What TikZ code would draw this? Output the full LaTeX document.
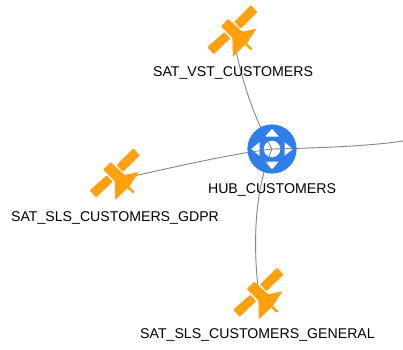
\documentclass[tikz,border=0pt]{standalone}
\usepackage{fontspec}
\setmainfont{Liberation Sans}
\definecolor{satorange}{HTML}{FFA00F}
\definecolor{hubblue}{HTML}{2F7FEA}
\definecolor{edgegray}{HTML}{858585}
\tikzset{
  x=1pt,y=-1pt,
  linkline/.style={draw=edgegray,line width=0.9pt},
  labeltext/.style={font=\fontsize{14.15}{16}\selectfont,text=black,inner sep=0pt,anchor=center},
  pics/satellite/.style={code={
    \fill[satorange,rounded corners=0.8pt] (17.6,-31.6) -- (24.2,-24.7) -- (7.2,-8) -- (1,-15) -- cycle;
    \fill[satorange,rounded corners=0.8pt] (-26,10.3) -- (-19.6,17.6) -- (-3,1.6) -- (-9,-4.6) -- cycle;
    \fill[satorange,rounded corners=0.6pt] (-12.4,-10.4) -- (-5,-17.8) -- (9,-5) -- (23.2,-8) -- (14,6) -- (-0.4,20) -- (-0.9,1.2) -- cycle;
    \draw[satorange,line width=2.4pt,line cap=round] (10,4.6) -- (17.6,12.2);
  }}
}
\begin{document}
\begin{tikzpicture}
\useasboundingbox (0,0) rectangle (403,349);
\fill[white] (0,0) rectangle (403,349);
\coordinate (hub) at (272,149);
\coordinate (satv) at (233.3,36.7);
\coordinate (satg) at (115.7,180);
\coordinate (sats) at (259.3,299.3);
\coordinate (offpage) at (403,141);
\path[linkline] (hub) .. controls (258,125) and (243,90) .. (satv);
\path[linkline] (hub) .. controls (225,155) and (170,168) .. (satg);
\path[linkline] (hub) .. controls (250,200) and (255,265) .. (sats);
\path[linkline] (hub) .. controls (320,148) and (370,146) .. (offpage);
\fill[hubblue,even odd rule] (hub) circle[radius=24.6]
  (hub) circle[radius=8.4]
  ([yshift=20.5pt]hub) -- ([xshift=7pt,yshift=12.5pt]hub) -- ([xshift=-7pt,yshift=12.5pt]hub) -- cycle
  ([yshift=-20.5pt]hub) -- ([xshift=7pt,yshift=-12.5pt]hub) -- ([xshift=-7pt,yshift=-12.5pt]hub) -- cycle
  ([xshift=-21pt]hub) -- ([xshift=-12.5pt,yshift=7pt]hub) -- ([xshift=-12.5pt,yshift=-7pt]hub) -- cycle
  ([xshift=21pt]hub) -- ([xshift=12.5pt,yshift=7pt]hub) -- ([xshift=12.5pt,yshift=-7pt]hub) -- cycle;
\pic at (satv) {satellite};
\pic at (satg) {satellite};
\pic at (sats) {satellite};
\node[labeltext] (lhub) at (272,190) {HUB\_CUSTOMERS};
\node[labeltext] (lv) at (233,72.5) {SAT\_VST\_CUSTOMERS};
\node[labeltext] (lg) at (115,217.5) {SAT\_SLS\_CUSTOMERS\_GDPR};
\node[labeltext] (ls) at (257.5,334.5) {SAT\_SLS\_CUSTOMERS\_GENERAL};
\end{tikzpicture}
\end{document}
